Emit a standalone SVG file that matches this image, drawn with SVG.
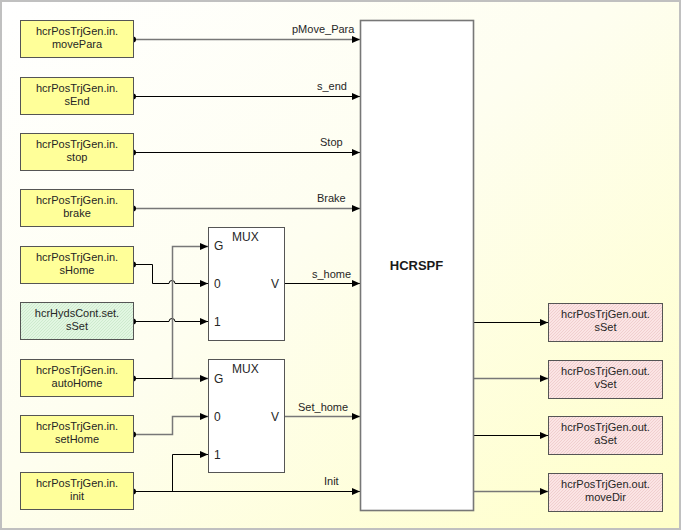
<svg xmlns="http://www.w3.org/2000/svg" width="682" height="531" viewBox="0 0 682 531">
<defs>
<linearGradient id="bg" x1="0" y1="0" x2="1" y2="1">
<stop offset="0" stop-color="#ffffff"/>
<stop offset="0.45" stop-color="#fefef0"/>
<stop offset="1" stop-color="#ffffc8"/>
</linearGradient>
<pattern id="hatchG" width="3" height="3" patternUnits="userSpaceOnUse">
<rect width="3" height="3" fill="#e2f6e2"/>
<path d="M0,3 L3,0" stroke="#c6e6c6" stroke-width="0.7"/>
</pattern>
<pattern id="hatchR" width="3" height="3" patternUnits="userSpaceOnUse">
<rect width="3" height="3" fill="#fbe4e4"/>
<path d="M0,3 L3,0" stroke="#ecc6c6" stroke-width="0.7"/>
</pattern>
<marker id="arr" markerUnits="userSpaceOnUse" markerWidth="9" markerHeight="8" refX="8" refY="3.5" orient="auto">
<path d="M0,0 L8,3.5 L0,7 z" fill="#000"/>
</marker>
</defs>
<style>
.in{fill:#ffff99;stroke:#555;stroke-width:1}
.ing{fill:url(#hatchG);stroke:#555;stroke-width:1}
.out{fill:url(#hatchR);stroke:#555;stroke-width:1}
.mux{fill:#fff;stroke:#555;stroke-width:1}
.blk{fill:#fff;stroke:#777;stroke-width:1.6}
.t{font-family:"Liberation Sans",Arial,sans-serif;font-size:11px;fill:#262626}
.c{text-anchor:middle}
.p{font-family:"Liberation Sans",Arial,sans-serif;font-size:12px;fill:#262626}
.b{font-family:"Liberation Sans",Arial,sans-serif;font-size:13px;font-weight:bold;fill:#1a1a1a;text-anchor:middle}
.k{fill:none;stroke:#000;stroke-width:1}
.g{fill:none;stroke:#777;stroke-width:1.5}
.a{marker-end:url(#arr)}
.dot{fill:#000}
</style>
<rect x="1" y="1" width="679" height="528" fill="url(#bg)" stroke="#c0c0c0" stroke-width="2"/>

<g id="connectors">
<path class="g a" d="M133,39.5 H360"/>
<path class="k a" d="M133,96.5 H360"/>
<path class="k a" d="M133,152.5 H360"/>
<path class="g a" d="M133,208.5 H360"/>
<path class="k a" d="M133,264.5 H152.5 V283.5 H169 A3,3 0 0 1 175,283.5 H208"/>
<path class="k a" d="M133,321.5 H169 A3,3 0 0 1 175,321.5 H208"/>
<path class="g a" d="M172.5,378.5 V246.5 H208"/>
<path class="g a" d="M172.5,378.5 H208"/>
<path class="k" d="M133,378.5 H172.5" stroke-width="1.8"/>
<path class="g a" d="M133,434.5 H172.5 V416.5 H208"/>
<path class="k a" d="M133,491.5 H360"/>
<path class="k a" d="M172.5,491.5 V454.5 H208"/>
<path class="k a" d="M285,283.5 H360"/>
<path class="g a" d="M285,416.5 H360"/>
<path class="k a" d="M473,322.5 H548"/>
<path class="g a" d="M473,378.5 H548"/>
<path class="k a" d="M473,435.5 H548"/>
<path class="g a" d="M473,491.5 H548"/>
<circle class="dot" cx="133" cy="39.5" r="3"/>
<circle class="dot" cx="133" cy="96.5" r="3"/>
<circle class="dot" cx="133" cy="152.5" r="3"/>
<circle class="dot" cx="133" cy="208.5" r="3"/>
<circle class="dot" cx="133" cy="264.5" r="3"/>
<circle class="dot" cx="133" cy="321.5" r="3"/>
<circle class="dot" cx="133" cy="378.5" r="3"/>
<circle class="dot" cx="133" cy="434.5" r="3"/>
<circle class="dot" cx="133" cy="491.5" r="3"/>
<text class="t" x="292" y="33">pMove_Para</text>
<text class="t" x="317" y="90">s_end</text>
<text class="t" x="320" y="146">Stop</text>
<text class="t" x="317" y="202">Brake</text>
<text class="t" x="312" y="278">s_home</text>
<text class="t" x="298" y="411">Set_home</text>
<text class="t" x="324" y="485">Init</text>
</g>

<g id="in_movePara"><rect class="in" x="20.5" y="20.5" width="113" height="37"/><text class="t c" x="77" y="35">hcrPosTrjGen.in.</text><text class="t c" x="77" y="48">movePara</text></g>
<g id="in_sEnd"><rect class="in" x="20.5" y="77.5" width="113" height="37"/><text class="t c" x="77" y="92">hcrPosTrjGen.in.</text><text class="t c" x="77" y="105">sEnd</text></g>
<g id="in_stop"><rect class="in" x="20.5" y="133.5" width="113" height="37"/><text class="t c" x="77" y="148">hcrPosTrjGen.in.</text><text class="t c" x="77" y="161">stop</text></g>
<g id="in_brake"><rect class="in" x="20.5" y="189.5" width="113" height="37"/><text class="t c" x="77" y="204">hcrPosTrjGen.in.</text><text class="t c" x="77" y="217">brake</text></g>
<g id="in_sHome"><rect class="in" x="20.5" y="246.5" width="113" height="37"/><text class="t c" x="77" y="261">hcrPosTrjGen.in.</text><text class="t c" x="77" y="274">sHome</text></g>
<g id="in_sSet"><rect class="ing" x="20.5" y="302.5" width="113" height="37"/><text class="t c" x="77" y="317">hcrHydsCont.set.</text><text class="t c" x="77" y="330">sSet</text></g>
<g id="in_autoHome"><rect class="in" x="20.5" y="359.5" width="113" height="37"/><text class="t c" x="77" y="374">hcrPosTrjGen.in.</text><text class="t c" x="77" y="387">autoHome</text></g>
<g id="in_setHome"><rect class="in" x="20.5" y="415.5" width="113" height="37"/><text class="t c" x="77" y="430">hcrPosTrjGen.in.</text><text class="t c" x="77" y="443">setHome</text></g>
<g id="in_init"><rect class="in" x="20.5" y="472.5" width="113" height="37"/><text class="t c" x="77" y="487">hcrPosTrjGen.in.</text><text class="t c" x="77" y="500">init</text></g>

<g id="mux1"><rect class="mux" x="208.5" y="227.5" width="76" height="113"/><text class="p" x="232" y="241">MUX</text><text class="p" x="214" y="250">G</text><text class="p" x="214" y="288">0</text><text class="p" x="214" y="326">1</text><text class="p" x="271" y="288">V</text></g>
<g id="mux2"><rect class="mux" x="208.5" y="359.5" width="76" height="113"/><text class="p" x="232" y="373">MUX</text><text class="p" x="214" y="383">G</text><text class="p" x="214" y="421">0</text><text class="p" x="214" y="459">1</text><text class="p" x="271" y="421">V</text></g>

<g id="hcrspf"><rect class="blk" x="360.5" y="20.5" width="113" height="490"/><text class="b" x="416.5" y="270">HCRSPF</text></g>

<g id="out_sSet"><rect class="out" x="548.5" y="303.5" width="114" height="38"/><text class="t c" x="605.5" y="318">hcrPosTrjGen.out.</text><text class="t c" x="605.5" y="331">sSet</text></g>
<g id="out_vSet"><rect class="out" x="548.5" y="360.5" width="114" height="38"/><text class="t c" x="605.5" y="375">hcrPosTrjGen.out.</text><text class="t c" x="605.5" y="388">vSet</text></g>
<g id="out_aSet"><rect class="out" x="548.5" y="416.5" width="114" height="38"/><text class="t c" x="605.5" y="431">hcrPosTrjGen.out.</text><text class="t c" x="605.5" y="444">aSet</text></g>
<g id="out_moveDir"><rect class="out" x="548.5" y="473.5" width="114" height="38"/><text class="t c" x="605.5" y="488">hcrPosTrjGen.out.</text><text class="t c" x="605.5" y="501">moveDir</text></g>
</svg>
